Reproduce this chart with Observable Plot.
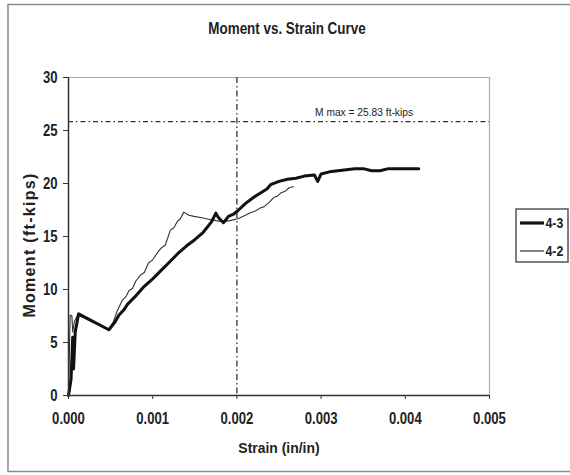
<!DOCTYPE html>
<html><head><meta charset="utf-8">
<script src="https://cdn.jsdelivr.net/npm/d3@7"></script>
<script src="https://cdn.jsdelivr.net/npm/@observablehq/plot@0.6"></script>
<style>
body{margin:0;background:#fff;}
#wrap{position:relative;width:570px;height:475px;overflow:hidden;}
</style></head><body><div id="wrap"></div>
<script>
const xTicks = [0, 0.001, 0.002, 0.003, 0.004, 0.005];
const yTicks = [0, 5, 10, 15, 20, 25, 30];
const seriesNames = ["4-3", "4-2"];
const mMax = 25.83;
const mMaxLabel = "M max = 25.83 ft-kips";
const mMaxLabelStrain = 0.00351;
const refStrain = 0.002;

const strain43 = [0,0.00003,0.00005,0.00006,0.00008,0.00012,0.00048,0.00055,0.0006,0.00066,0.0007,0.0008,0.0009,0.001,0.0011,0.0012,0.0013,0.0014,0.0015,0.0016,0.0017,0.00175,0.00178,0.00184,0.0019,0.00196,0.00202,0.0021,0.0022,0.0023,0.00236,0.0024,0.0025,0.0026,0.0027,0.0028,0.00292,0.00296,0.003,0.0031,0.0032,0.0033,0.0034,0.0035,0.0036,0.0037,0.0038,0.0039,0.004,0.00416];
const moment43 = [0,1.5,5.5,2.5,6,7.7,6.2,6.9,7.6,8.1,8.6,9.4,10.3,11.0,11.8,12.6,13.4,14.1,14.7,15.4,16.4,17.2,16.8,16.3,16.9,17.1,17.5,18.1,18.7,19.2,19.5,19.9,20.2,20.4,20.5,20.7,20.8,20.2,20.9,21.1,21.2,21.3,21.4,21.4,21.2,21.2,21.4,21.4,21.4,21.4];

const strain42 = [0,0.00001,0.00002,0.00004,0.00005,0.00007,0.00011,0.00047,0.00053,0.00058,0.00064,0.00068,0.00072,0.00076,0.0008,0.00086,0.0009,0.00095,0.001,0.00105,0.0011,0.00115,0.00121,0.00125,0.00129,0.00133,0.00137,0.00143,0.00149,0.00157,0.00165,0.00175,0.00184,0.00192,0.00202,0.0021,0.00216,0.00222,0.00228,0.00232,0.00238,0.00244,0.00248,0.00252,0.00258,0.00262,0.00267];
const moment42 = [0,4,7.6,7.5,6.0,7.0,7.6,6.2,6.9,8.0,9.0,9.3,9.9,10.1,10.8,11.4,11.6,12.5,12.8,13.4,13.9,14.2,15.6,15.8,16.4,16.7,17.3,17.0,16.9,16.8,16.65,16.5,16.4,16.5,16.7,17.0,17.25,17.4,17.7,17.8,18.2,18.7,18.8,19.1,19.3,19.6,19.7];

const d43 = strain43.map((s,i)=>({s, m: moment43[i]}));
const d42 = strain42.map((s,i)=>({s, m: moment42[i]}));

const FONT = '"Liberation Sans", Arial, sans-serif';
const plot = Plot.plot({
  width: 570, height: 475,
  marginLeft: 68, marginRight: 81, marginTop: 77, marginBottom: 80,
  x: {domain: [0, 0.005]},
  y: {domain: [0, 30]},
  style: {fontFamily: FONT, fontSize: "16px", fontWeight: "bold", color: "#222", background: "transparent", overflow: "visible"},
  marks: [
    Plot.ruleY([30], {stroke: "#aaa", strokeWidth: 1.2}),
    Plot.ruleX([0.005], {stroke: "#aaa", strokeWidth: 1.2}),
    Plot.ruleY([mMax], {stroke: "#333", strokeWidth: 1.3, strokeDasharray: "5,3,1.5,3"}),
    Plot.ruleX([refStrain], {stroke: "#333", strokeWidth: 1.3, strokeDasharray: "6,3,1.5,3"}),
    Plot.text([mMaxLabel], {x: () => mMaxLabelStrain, y: () => mMax, dy: -6, lineAnchor: "bottom", text: d => d, fontSize: 11.5, fontWeight: "normal", fontFamily: FONT, fill: "#222"}),
    Plot.line(d42, {x: "s", y: "m", stroke: "#333", strokeWidth: 1.1}),
    Plot.line(d43, {x: "s", y: "m", stroke: "#111", strokeWidth: 3, strokeLinejoin: "round"}),
    Plot.ruleX([0], {stroke: "#333", strokeWidth: 1.5}),
    Plot.ruleY([0], {stroke: "#333", strokeWidth: 1.5}),
    Plot.axisY({ticks: yTicks, tickSize: 5, tickPadding: 6, label: null, stroke: "#333"}),
    Plot.axisX({ticks: xTicks, tickSize: 4, tickPadding: 13, tickFormat: d3.format(".3f"), label: null, stroke: "#333"})
  ]
});
const wrap = document.getElementById("wrap");
wrap.appendChild(plot);

function condense(el, s) {
  const t = el.getAttribute("transform") || "";
  const x = +el.getAttribute("x") || 0, y = +el.getAttribute("y") || 0;
  el.setAttribute("transform", `${t} translate(${x},${y}) scale(${s},1) translate(${-x},${-y})`);
}
const svg = d3.select(plot);
svg.selectAll('g[aria-label$="tick label"] text').each(function(){ condense(this, 0.82); });
svg.selectAll('g[aria-label="text"] text').each(function(){ condense(this, 0.89); });

// outer chart frame
svg.insert("rect", ":first-child").attr("x", 8).attr("y", 4.5).attr("width", 570).attr("height", 467)
  .attr("fill", "white").attr("stroke", "#8a8a8a").attr("stroke-width", 1.5);

function addText(str, x, y, size, scale, opts = {}) {
  const t = svg.append("text").attr("x", x).attr("y", y).attr("text-anchor", opts.anchor || "middle")
    .attr("font-family", FONT).attr("font-weight", "bold").attr("font-size", size).attr("fill", "#222").text(str);
  if (opts.spacing) t.attr("letter-spacing", opts.spacing);
  if (opts.rotate) t.attr("transform", `rotate(${opts.rotate},${x},${y})`);
  else condense(t.node(), scale);
  return t;
}
addText("Moment vs. Strain Curve", 287, 34, 17, 0.79);
addText("Strain (in/in)", 279, 453, 15.5, 0.9);
addText("Moment (ft-kips)", 35, 245, 16, 1, {rotate: -90, spacing: 1.3});

// legend
const lg = svg.append("g");
lg.append("rect").attr("x", 516).attr("y", 209).attr("width", 52).attr("height", 53)
  .attr("fill", "white").attr("stroke", "#555").attr("stroke-width", 1.5);
const legendStyles = [{w: 3.2, c: "#111"}, {w: 1.2, c: "#333"}];
seriesNames.forEach((n, i) => {
  const yy = 223 + i * 28;
  lg.append("line").attr("x1", 520).attr("x2", 544).attr("y1", yy).attr("y2", yy)
    .attr("stroke", legendStyles[i].c).attr("stroke-width", legendStyles[i].w);
  addText(n, 545.5, yy + 5.5, 15, 0.82, {anchor: "start"});
});
</script>
</body></html>
